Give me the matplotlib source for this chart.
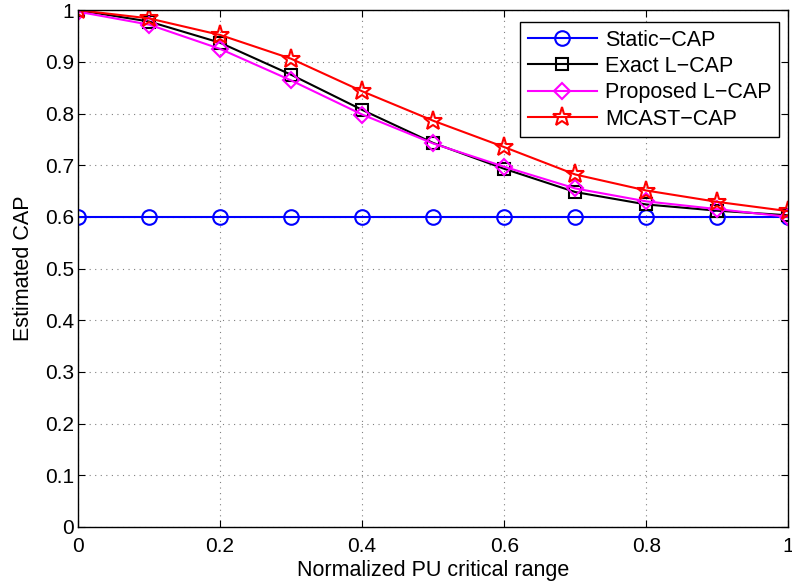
import numpy as np
import matplotlib.pyplot as plt

plt.rcParams['font.family'] = ['Liberation Sans', 'DejaVu Sans']

# Data
x = [0, 0.1, 0.2, 0.3, 0.4, 0.5, 0.6, 0.7, 0.8, 0.9, 1.0]
static_cap = [0.6, 0.6, 0.6, 0.6, 0.6, 0.6, 0.6, 0.6, 0.6, 0.6, 0.6]
exact_lcap = [1.0, 0.978, 0.937, 0.875, 0.807, 0.743, 0.693, 0.648, 0.624, 0.612, 0.603]
proposed_lcap = [0.997, 0.972, 0.925, 0.864, 0.798, 0.742, 0.697, 0.655, 0.630, 0.615, 0.600]
mcast_cap = [1.0, 0.984, 0.952, 0.906, 0.843, 0.786, 0.735, 0.682, 0.651, 0.629, 0.611]

fig = plt.figure(figsize=(7.92, 5.86), dpi=100)
ax = fig.add_axes([0.0985, 0.1007, 0.897, 0.882])

lw = 1.5
ax.plot(x, static_cap, 'b-o', lw=lw, ms=10.5, mfc='none', mew=1.5, label='Static\u2212CAP')
ax.plot(x, exact_lcap, 'k-s', lw=lw, ms=8, mfc='none', mew=1.5, label='Exact L\u2212CAP')
ax.plot(x, proposed_lcap, '-D', color='magenta', lw=lw, ms=8.5, mfc='none', mew=1.5,
        label='Proposed L\u2212CAP')
ax.plot(x, mcast_cap, 'r-*', lw=lw, ms=14, mfc='none', mew=1.5, label='MCAST\u2212CAP')

ax.set_xlim(0, 1)
ax.set_ylim(0, 1)
ax.set_xticks([0, 0.2, 0.4, 0.6, 0.8, 1])
ax.set_xticklabels(['0', '0.2', '0.4', '0.6', '0.8', '1'])
ax.set_yticks(np.arange(0, 1.01, 0.1))
ax.set_yticklabels(['0', '0.1', '0.2', '0.3', '0.4', '0.5', '0.6', '0.7', '0.8', '0.9', '1'])
ax.tick_params(direction='in', labelsize=15, length=5, top=True, right=True, pad=7)
ax.tick_params(axis='y', pad=3)
ax.grid(True, linestyle=(0, (1, 4)), color='gray', lw=0.8)
for s in ax.spines.values():
    s.set_linewidth(1.0)

ax.set_xlabel('Normalized PU critical range', fontsize=15.5, labelpad=3)
ax.set_ylabel('Estimated CAP', fontsize=15.5, labelpad=8)

leg = ax.legend(loc='upper right', bbox_to_anchor=(0.987, 0.977), borderaxespad=0,
                fontsize=15.5, fancybox=False, edgecolor='black', framealpha=1,
                handlelength=3.2, borderpad=0.35, labelspacing=0.25, handletextpad=0.4)
leg.get_frame().set_linewidth(1.0)

fig.savefig('out.png', dpi=100)
